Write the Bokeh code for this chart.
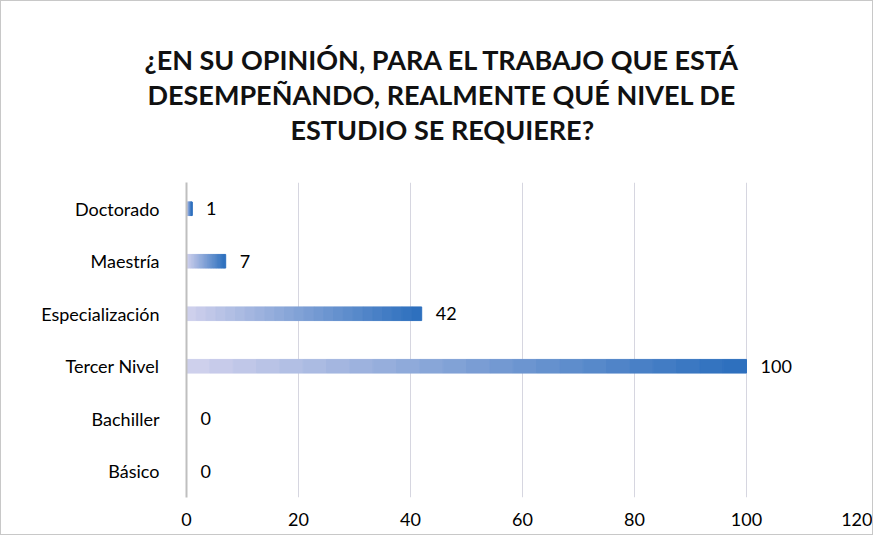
from bokeh.plotting import figure
from bokeh.models import ColumnDataSource, FixedTicker, Range1d, Title
from bokeh.core.properties import value
from bokeh.embed import file_html
from bokeh.resources import INLINE

categories = ["Básico", "Bachiller", "Tercer Nivel", "Especialización", "Maestría", "Doctorado"]
counts = [0, 0, 100, 42, 7, 1]
x_ticks = [0, 20, 40, 60, 80, 100, 120]
title_lines = ["¿EN SU OPINIÓN, PARA EL TRABAJO QUE ESTÁ",
               "DESEMPEÑANDO, REALMENTE QUÉ NIVEL DE",
               "ESTUDIO SE REQUIERE?"]
title_offsets = [-42, -39, 104]

FONT = "Lato"
light = (206, 208, 236)
dark = (46, 112, 190)
N = 24

W, H = 873, 535
BL, BR, BT, BB = 185, 16, 181, 39
p = figure(width=W, height=H, y_range=categories, x_range=Range1d(0, 120),
           output_backend="svg", toolbar_location=None,
           min_border_left=BL, min_border_right=BR, min_border_top=BT, min_border_bottom=BB)
p.styles = {"border": "1px solid #C8C8C8"}

# spacer between title block and plot frame
p.add_layout(Title(text=" ", text_font_size="31px", standoff=0), "above")
for line, off in reversed(list(zip(title_lines, title_offsets))):
    p.add_layout(Title(text=line, align="left", offset=off, standoff=0, text_font=FONT,
                       text_font_size="27px", text_font_style="bold", text_color="#111111",
                       text_line_height=1.0), "above")

# gradient bars built as segments of each bar's length
lefts, rights, ys, cols = [], [], [], []
for c, v in zip(categories, counts):
    if v == 0:
        continue
    for i in range(N):
        f = i / (N - 1)
        col = "#%02x%02x%02x" % tuple(int(light[k] + (dark[k] - light[k]) * f) for k in range(3))
        lefts.append(v * i / N)
        rights.append(v * (i + 1) / N)
        ys.append(c)
        cols.append(col)
p.hbar(y=ys, left=lefts, right=rights, height=0.26, fill_color=cols, line_color=cols, line_width=1)

src = ColumnDataSource(dict(y=categories, x=counts, t=[str(v) for v in counts]))
p.text(x="x", y="y", text="t", source=src, x_offset=14, text_baseline="middle",
       text_font=value(FONT), text_font_size="18px", text_color="#000000")

p.xaxis.ticker = FixedTicker(ticks=x_ticks)
p.xaxis.axis_line_color = None
p.xaxis.major_tick_line_color = None
p.xaxis.minor_tick_line_color = None
p.xaxis.major_label_text_font = FONT
p.xaxis.major_label_text_font_size = "18px"
p.xaxis.major_label_text_color = "#000000"
p.xaxis.major_label_standoff = 9

p.yaxis.axis_line_color = "#BFBFBF"
p.yaxis.axis_line_width = 2
p.yaxis.major_tick_line_color = None
p.yaxis.minor_tick_line_color = None
p.yaxis.major_label_text_font = FONT
p.yaxis.major_label_text_font_size = "18px"
p.yaxis.major_label_text_color = "#000000"
p.yaxis.major_label_standoff = 21

p.xgrid.grid_line_color = "#D6D6E0"
p.ygrid.grid_line_color = None
p.outline_line_color = None
p.y_range.range_padding = 0.0

open("out.html", "w").write(file_html(p, INLINE))
